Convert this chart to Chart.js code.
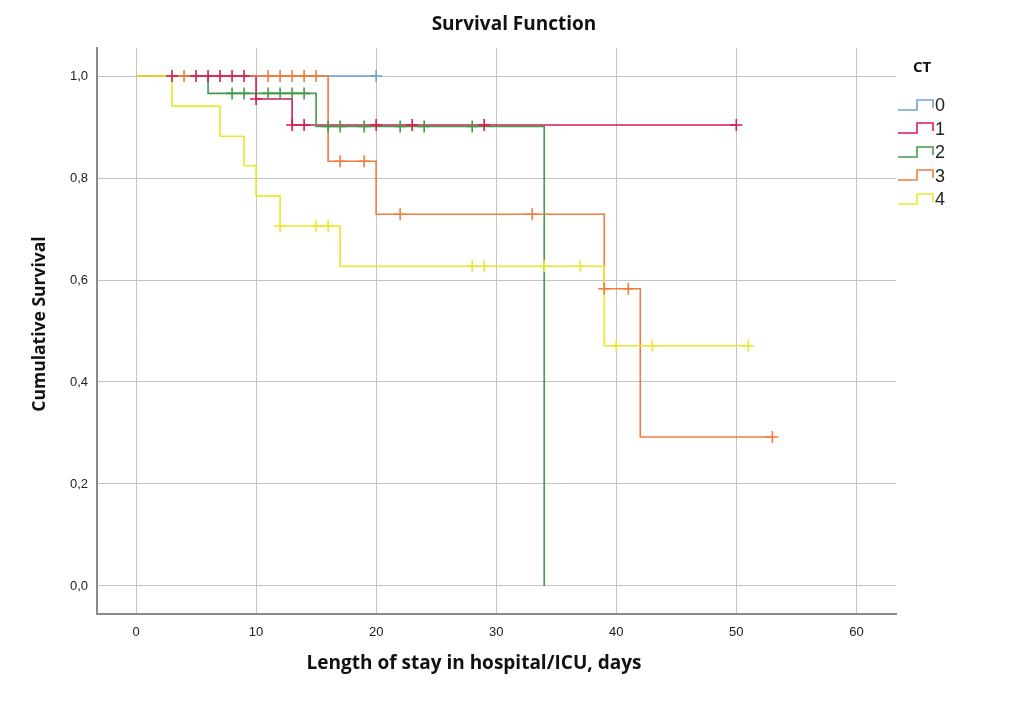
<!DOCTYPE html>
<html>
<head>
<meta charset="utf-8">
<script src="https://cdn.jsdelivr.net/npm/chart.js@4/dist/chart.umd.min.js"></script>
<style>
  body { margin: 0; background: #fff; }
  #wrap { position: relative; width: 1024px; height: 704px; }
  #title {
    position: absolute; left: 314px; width: 400px; top: 10px; text-align: center;
    font: bold 19px "Open Sans", sans-serif; color: #111;
  }
  #xtitle {
    position: absolute; left: 274px; width: 400px; top: 649px; text-align: center;
    font: bold 19px "Open Sans", sans-serif; color: #111;
  }
  #ytitle {
    position: absolute; left: -162px; width: 400px; top: 312px; text-align: center;
    font: bold 17.5px "Open Sans", sans-serif; color: #111; transform: rotate(-90deg);
  }
  #legend { position: absolute; left: 896px; top: 56px; width: 120px; }
  #legend .head { font: bold 15px "Open Sans", sans-serif; color: #111; margin-left: 17px; height: 38px; }
  #legend .item { height: 23.5px; display: flex; align-items: center; }
  #legend .item span { font: 18px "Liberation Sans", sans-serif; color: #222; margin-left: 1px; }
</style>
</head>
<body>
<div id="wrap">
  <canvas id="kmChart" width="1024" height="704"></canvas>
  <div id="title">Survival Function</div>
  <div id="xtitle">Length of stay in hospital/ICU, days</div>
  <div id="ytitle">Cumulative Survival</div>
  <div id="legend"><div class="head">CT</div></div>
</div>
<script>
// groups (CT)
const groups = ['0', '1', '2', '3', '4'];
const colors = ['#6ea3d8', '#d81b52', '#46994a', '#f07c3e', '#e9e92c'];

// Kaplan-Meier steps: event times and survival after them
const times0 = [0, 20];
const surv0 = [1, 1];
const times1 = [0, 10, 13, 50];
const surv1 = [1, 0.955, 0.904, 0.904];
const times2 = [0, 6, 15, 34];
const surv2 = [1, 0.966, 0.901, 0];
const times3 = [0, 16, 20, 39, 42, 53];
const surv3 = [1, 0.833, 0.729, 0.583, 0.292, 0.292];
const times4 = [0, 3, 7, 9, 10, 12, 17, 39, 51];
const surv4 = [1, 0.941, 0.882, 0.824, 0.765, 0.706, 0.627, 0.471, 0.471];

// censored cases
const censor0 = [20];
const censor1 = [3, 5, 6, 7, 8, 9, 10, 13, 14, 20, 23, 29, 50];
const censor2 = [8, 9, 11, 12, 13, 14, 16, 17, 19, 22, 24, 28];
const censor3 = [4, 11, 12, 13, 14, 15, 17, 19, 22, 33, 39, 41, 53];
const censor4 = [12, 15, 16, 28, 29, 34, 37, 40, 43, 51];

// axis ticks
const xTicks = [0, 10, 20, 30, 40, 50, 60];
const yTicks = [0, 0.2, 0.4, 0.6, 0.8, 1.0];
const yTickLabels = ['0,0', '0,2', '0,4', '0,6', '0,8', '1,0'];

const allTimes = [times0, times1, times2, times3, times4];
const allSurv = [surv0, surv1, surv2, surv3, surv4];
const allCensor = [censor0, censor1, censor2, censor3, censor4];

function survAt(ts, ss, t) {
  let v = ss[0];
  for (let i = 0; i < ts.length; i++) if (ts[i] <= t) v = ss[i];
  return v;
}

const datasets = [];
groups.forEach((g, i) => {
  datasets.push({
    label: g,
    data: allTimes[i].map((t, j) => ({x: t, y: allSurv[i][j]})),
    showLine: true,
    stepped: true,
    borderColor: colors[i],
    borderWidth: 1.6,
    pointRadius: 0,
    fill: false,
    order: 10 - i
  });
  datasets.push({
    label: g + ' censored',
    data: allCensor[i].map(t => ({x: t, y: survAt(allTimes[i], allSurv[i], t)})),
    showLine: false,
    pointStyle: 'cross',
    pointRadius: 6,
    pointBorderWidth: 1.6,
    borderColor: colors[i],
    backgroundColor: colors[i],
    order: 5 - i
  });
});

const tickFont = { family: 'Liberation Sans', size: 13 };

new Chart(document.getElementById('kmChart'), {
  type: 'scatter',
  data: { datasets: datasets },
  options: {
    responsive: false,
    animation: false,
    layout: { padding: { left: 20, right: 128, top: 48, bottom: 60 } },
    plugins: {
      legend: { display: false },
      tooltip: { enabled: false }
    },
    scales: {
      x: {
        type: 'linear',
        min: -3.25,
        max: 63.3,
        afterBuildTicks: s => { s.ticks = xTicks.map(v => ({value: v})); },
        afterFit: s => { s.height = 30; },
        grid: { color: '#c4c4c4', lineWidth: 1, drawTicks: false },
        border: { color: '#8a8a8a', width: 2 },
        ticks: {
          padding: 11,
          color: '#222',
          font: tickFont,
          callback: v => String(v)
        }
      },
      y: {
        type: 'linear',
        min: -0.055,
        max: 1.055,
        afterBuildTicks: s => { s.ticks = yTicks.map(v => ({value: v})); },
        afterFit: s => { s.width = 77; },
        grid: { color: '#c4c4c4', lineWidth: 1, drawTicks: false },
        border: { color: '#8a8a8a', width: 2 },
        ticks: {
          padding: 9,
          color: '#222',
          font: tickFont,
          callback: v => {
            const k = yTicks.findIndex(t => Math.abs(t - v) < 1e-6);
            return k >= 0 ? yTickLabels[k] : '';
          }
        }
      }
    }
  }
});

// legend with step icons
const legend = document.getElementById('legend');
groups.forEach((g, i) => {
  const row = document.createElement('div');
  row.className = 'item';
  row.innerHTML = '<svg width="38" height="20"><polyline points="2,14 21,14 21,4 37,4 37,12" fill="none" stroke="' +
    colors[i] + '" stroke-width="1.6"/></svg><span>' + g + '</span>';
  legend.appendChild(row);
});
</script>
</body>
</html>
